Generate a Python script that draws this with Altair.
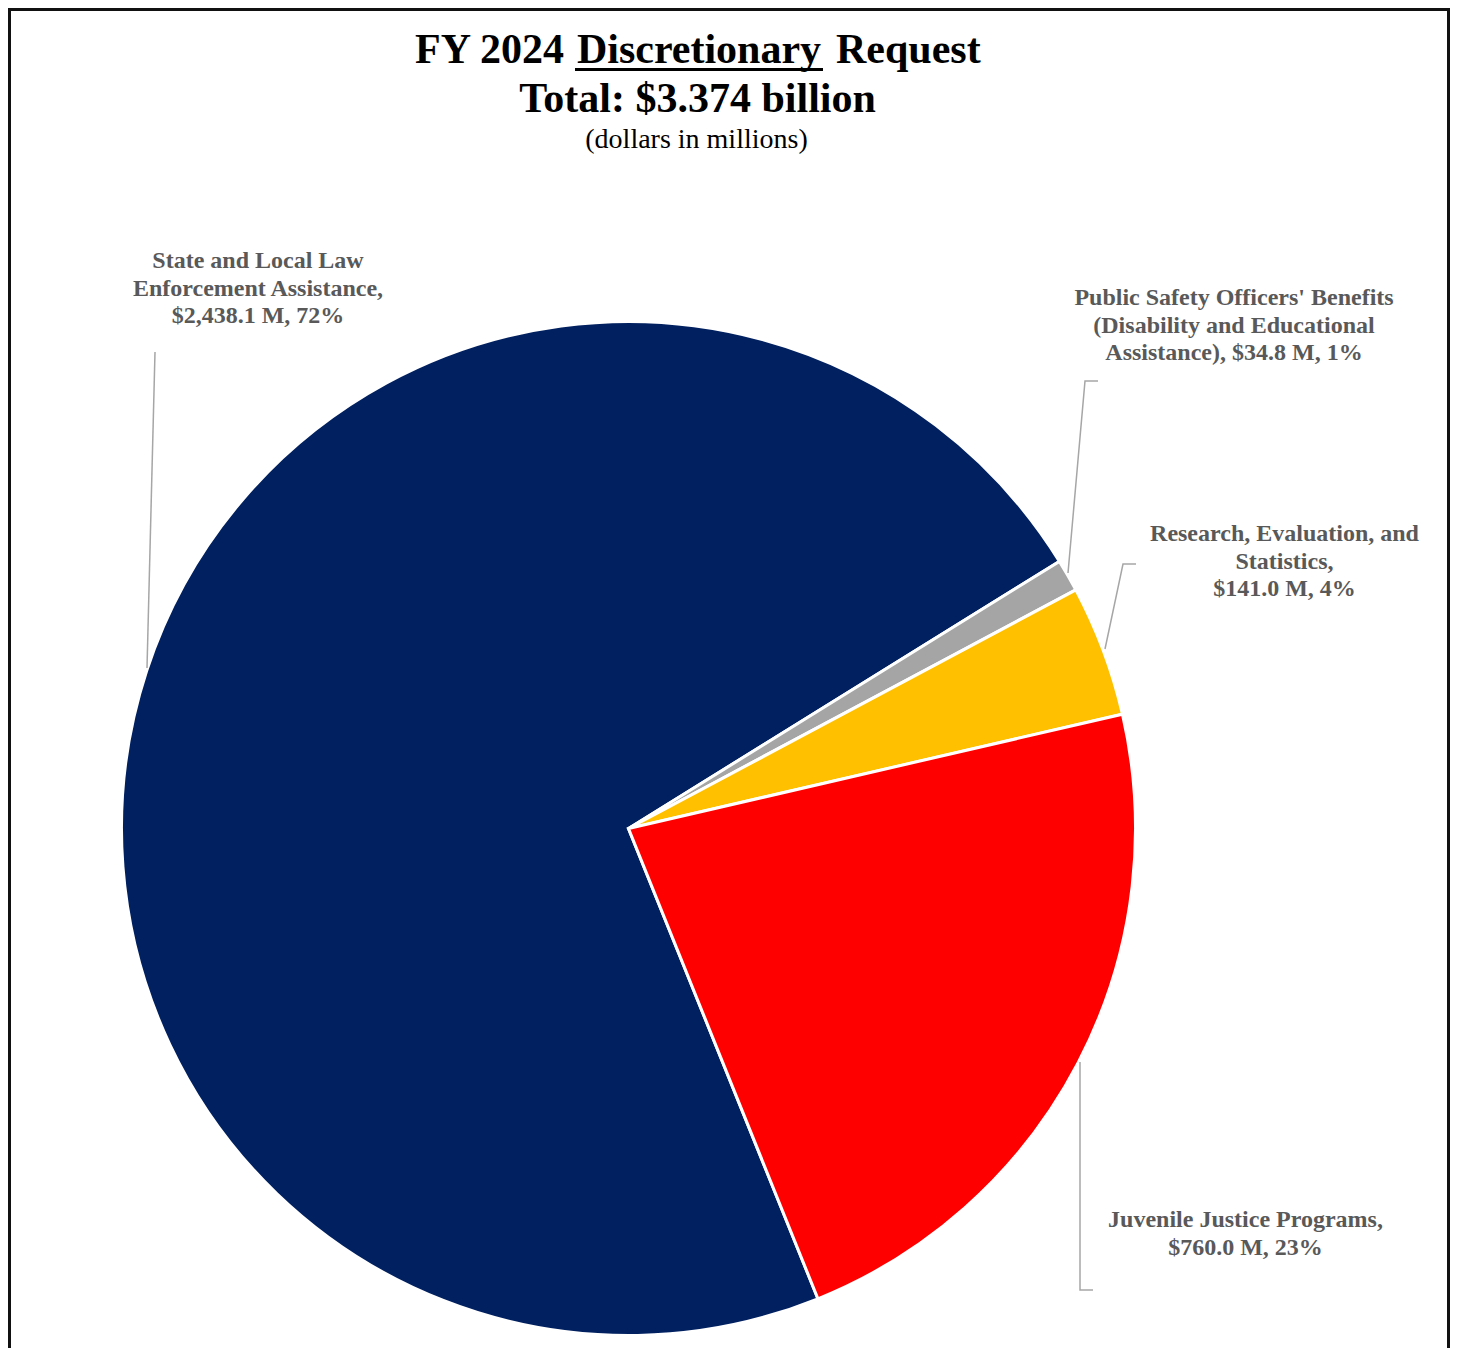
import math
import altair as alt
import pandas as pd

# ---------------- data ----------------
categories = [
    "State and Local Law Enforcement Assistance",
    "Public Safety Officers' Benefits (Disability and Educational Assistance)",
    "Research, Evaluation, and Statistics",
    "Juvenile Justice Programs",
]
values = [2438.1, 34.8, 141.0, 760.0]
percents = [72, 1, 4, 23]
colors = ["#002060", "#A5A5A5", "#FFC000", "#FF0000"]

label_heads = [
    ["State and Local Law", "Enforcement Assistance,"],
    ["Public Safety Officers' Benefits", "(Disability and Educational", "Assistance),"],
    ["Research, Evaluation, and", "Statistics,"],
    ["Juvenile Justice Programs,"],
]
joined_last = [False, True, False, False]

title_line1 = ["FY 2024", "Discretionary", "Request"]
title_line2 = "Total: $3.374 billion"
title_line3 = "(dollars in millions)"

# ---------------- layout (page pixels) ----------------
M = 8
W, H = 1442, 1340
CX, CY, R = 628.5 - M, 828.5 - M, 507
START = math.radians(158.06)

# label anchors (center x, first baseline y) in page pixels
label_x = [258, 1234, 1284.5, 1245.5]
label_y = [268, 305, 541, 1227]

# leader polylines in page pixels
leaders = [
    [(155, 352), (147, 668)],
    [(1098, 381), (1085, 381), (1068, 573)],
    [(1136, 564), (1123, 564), (1105, 649)],
    [(1080, 1062), (1080, 1290), (1093, 1290)],
]

# ---------------- build tables ----------------
pie_df = pd.DataFrame({"category": categories, "value": values, "ord": list(range(len(values)))})

texts = []
for head, v, p, j in zip(label_heads, values, percents, joined_last):
    amount = f"${v:,.1f} M, {p}%"
    lines = list(head)
    if j:
        lines[-1] = lines[-1] + " " + amount
    else:
        lines.append(amount)
    texts.append(lines)
lab_df = pd.DataFrame({
    "x": [x - M for x in label_x],
    "y": [y - M for y in label_y],
    "text": texts,
})

rows = []
for i, pts in enumerate(leaders):
    for k, (x, y) in enumerate(pts):
        rows.append({"seg": i, "k": k, "x": x - M, "y": y - M})
lead_df = pd.DataFrame(rows)

# ---------------- layers ----------------
pie = alt.Chart(pie_df).mark_arc(
    outerRadius=R, stroke="white", strokeWidth=3
).encode(
    theta=alt.Theta("value:Q", stack=True,
                    scale=alt.Scale(range=[START, START + 2 * math.pi])),
    color=alt.Color("category:N", scale=alt.Scale(domain=categories, range=colors), legend=None),
    order=alt.Order("ord:Q"),
    x=alt.value(CX),
    y=alt.value(CY),
)

lead = alt.Chart(lead_df).mark_line(color="#A6A6A6", strokeWidth=1.5).encode(
    x=alt.X("x:Q", scale=None),
    y=alt.Y("y:Q", scale=None),
    detail="seg:N",
    order="k:Q",
)

labels = alt.Chart(lab_df).mark_text(
    font="Liberation Serif", fontSize=24, fontWeight="bold", color="#595959",
    align="center", baseline="alphabetic", lineHeight=27.5,
).encode(
    x=alt.X("x:Q", scale=None),
    y=alt.Y("y:Q", scale=None),
    text="text",
)

title_df = pd.DataFrame({
    "text": title_line1 + [title_line2, title_line3],
    "x": [564 - M, 699 - M, 836 - M, 697.5 - M, 696.5 - M],
    "y": [63 - M, 63 - M, 63 - M, 112 - M, 148 - M],
    "align": ["right", "center", "left", "center", "center"],
    "size": [42, 42, 42, 42, 28],
    "weight": ["bold", "bold", "bold", "bold", "normal"],
})

title_bold = alt.Chart(title_df[title_df["weight"] == "bold"].iloc[[0]]).mark_text(
    font="Liberation Serif", fontSize=42, fontWeight="bold", color="black",
    align="right", baseline="alphabetic",
).encode(x=alt.X("x:Q", scale=None), y=alt.Y("y:Q", scale=None), text="text")

title_mid = alt.Chart(title_df.iloc[[1, 3]]).mark_text(
    font="Liberation Serif", fontSize=42, fontWeight="bold", color="black",
    align="center", baseline="alphabetic",
).encode(x=alt.X("x:Q", scale=None), y=alt.Y("y:Q", scale=None), text="text")

title_right = alt.Chart(title_df.iloc[[2]]).mark_text(
    font="Liberation Serif", fontSize=42, fontWeight="bold", color="black",
    align="left", baseline="alphabetic",
).encode(x=alt.X("x:Q", scale=None), y=alt.Y("y:Q", scale=None), text="text")

subtitle = alt.Chart(title_df.iloc[[4]]).mark_text(
    font="Liberation Serif", fontSize=28, fontWeight="normal", color="black",
    align="center", baseline="alphabetic",
).encode(x=alt.X("x:Q", scale=None), y=alt.Y("y:Q", scale=None), text="text")

underline_df = pd.DataFrame({"x": [575 - M], "x2": [823 - M], "y": [69.5 - M]})
underline = alt.Chart(underline_df).mark_rule(color="black", strokeWidth=3).encode(
    x=alt.X("x:Q", scale=None), x2="x2:Q", y=alt.Y("y:Q", scale=None)
)

border_df = pd.DataFrame({
    "x": [1.5, 0, W - 1.5],
    "x2": [1.5, W, W - 1.5],
    "y": [0, 1.5, 0],
    "y2": [H, 1.5, H],
})
border = alt.Chart(border_df).mark_rule(color="#111111", strokeWidth=3).encode(
    x=alt.X("x:Q", scale=None), x2="x2:Q",
    y=alt.Y("y:Q", scale=None), y2="y2:Q",
)

chart = alt.layer(
    pie, lead, labels, title_bold, title_mid, title_right, subtitle, underline, border
).properties(
    width=W, height=H, padding=0,
    autosize=alt.AutoSizeParams(type="none"),
).configure_view(stroke=None)

chart.save("out.html", embed_options={"renderer": "svg", "actions": False})
